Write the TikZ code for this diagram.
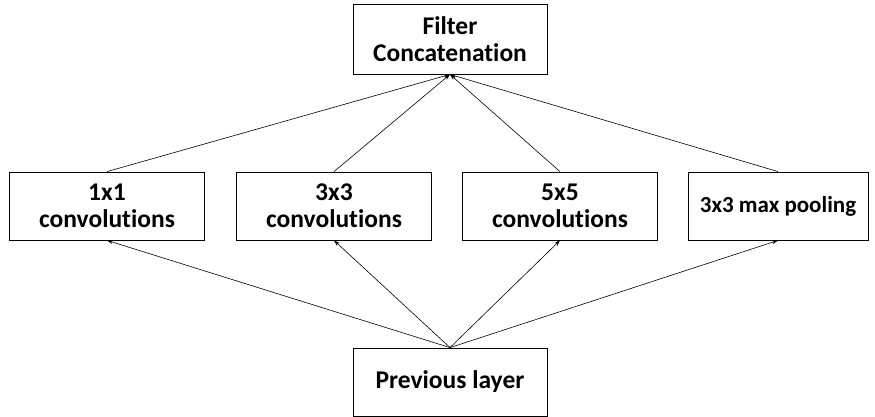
\documentclass[tikz,border=0pt]{standalone}
\usepackage{fontspec}
\setmainfont{Carlito}[Ligatures=NoCommon]
\usetikzlibrary{arrows.meta,positioning}

\begin{document}
\begin{tikzpicture}[
  x=1pt, y=-1pt,
  box/.style={draw, line width=0.8pt, minimum width=#1, minimum height=68pt,
              inner sep=0pt, align=center, font=\bfseries\fontsize{25.5}{27}\selectfont},
  box/.default=195pt,
  flow/.style={-{Stealth[length=6pt, width=4pt]}, line width=0.6pt},
]
\useasboundingbox (0,0) rectangle (875,417);

%% ---- output and input ----
\node[box=194pt, minimum height=70pt] (concat) at (450,39) {Filter\\Concatenation};
\node[box=194pt] (prev) at (450,382) {Previous layer};

%% ---- parallel branches ----
\node[box] (conv1) at (107,206) {1x1\\convolutions};
\node[box] (conv3) at (334,206) {3x3\\convolutions};
\node[box] (conv5) at (560,206) {5x5\\convolutions};
\node[box=180pt, font=\bfseries\fontsize{23}{25}\selectfont] (pool) at (778,206)
  {3x3 max pooling};

%% ---- connectors ----
\foreach \b in {conv1,conv3,conv5,pool} {
  \draw[flow] (prev.north) -- (\b.south);
  \draw[flow] (\b.north) -- (concat.south);
}

\end{tikzpicture}
\end{document}
